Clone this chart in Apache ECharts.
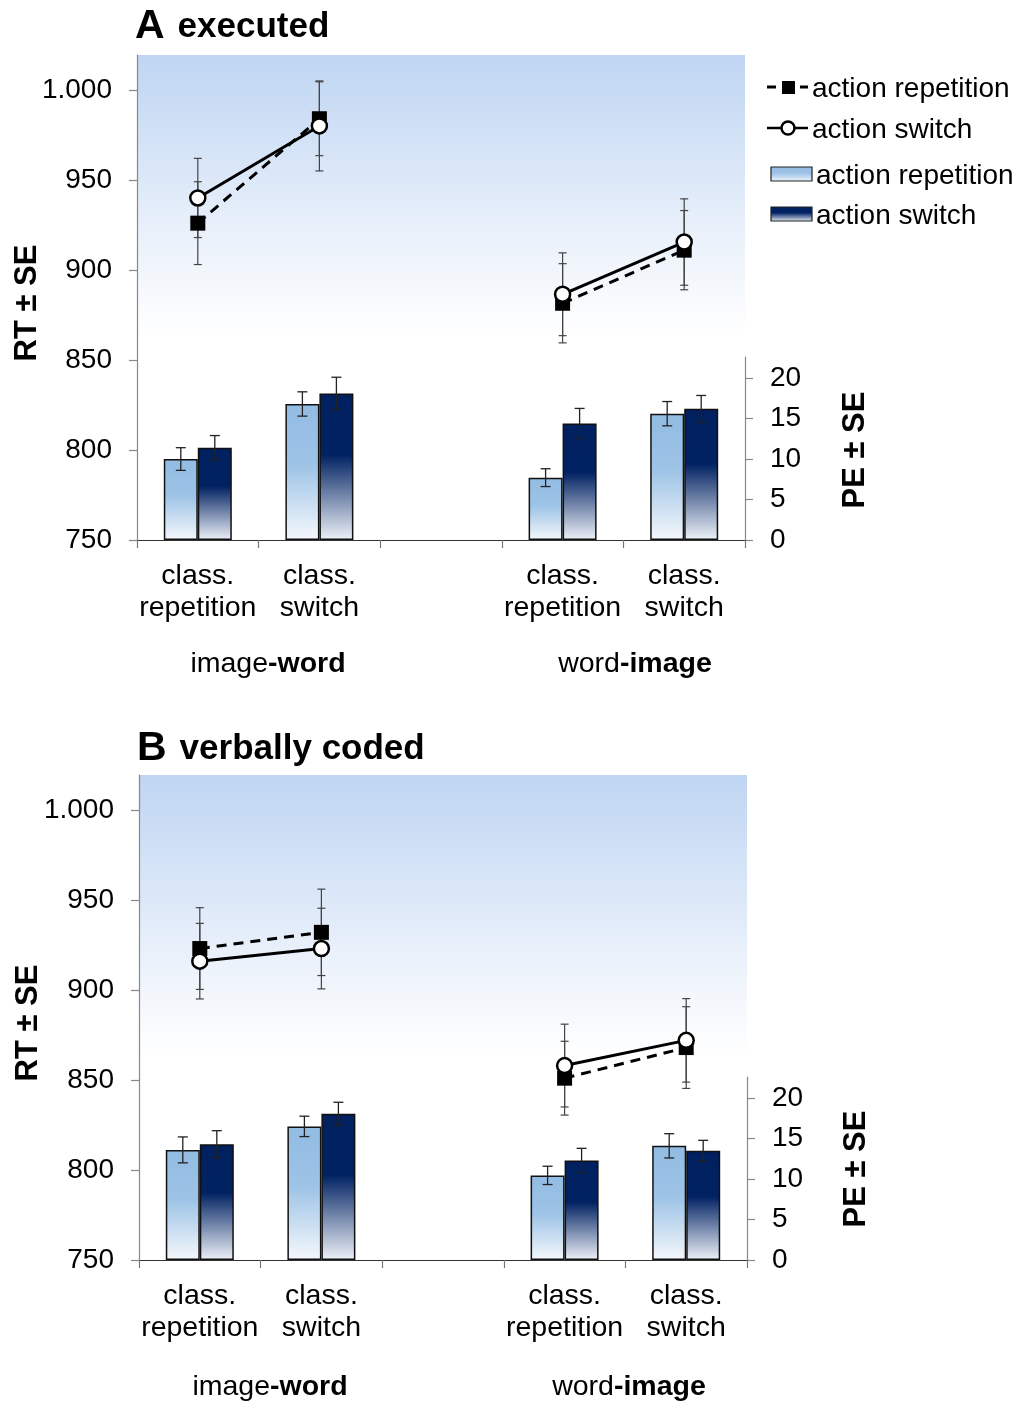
<!DOCTYPE html>
<html>
<head>
<meta charset="utf-8">
<script src="https://cdn.jsdelivr.net/npm/echarts@6/dist/echarts.min.js"></script>
<style>
  html, body { margin: 0; padding: 0; background: #fff; }
  #chart { width: 1021px; height: 1401px; }
</style>
</head>
<body>
<div id="chart"></div>
<script>
// ---------- data ----------
const categories = ['class.\nrepetition', 'class.\nswitch', '', 'class.\nrepetition', 'class.\nswitch'];
const groupLabels = [['image', '-word'], ['word', '-image']];
const panelTitles = [['A', 'executed'], ['B', 'verbally coded']];
const rtTicks = [750, 800, 850, 900, 950, 1000];
const rtTickLabels = ['750', '800', '850', '900', '950', '1.000'];
const peTicks = [0, 5, 10, 15, 20];
const seriesNames = ['action repetition', 'action switch'];
const axisNames = ['RT ± SE', 'PE ± SE'];

// Panel A (executed)
const aRtRep    = [926, 984, null, 881.5, 911];
const aRtRepSE  = [23, 20.5, null, 22, 22];
const aRtSw     = [940, 980, null, 886.5, 915.5];
const aRtSwSE   = [22, 25, null, 23, 24];
const aPeRep    = [10.0, 16.8, null, 7.7, 15.6];
const aPeRepSE  = [1.4, 1.5, null, 1.1, 1.5];
const aPeSw     = [11.4, 18.1, null, 14.4, 16.2];
const aPeSwSE   = [1.5, 2.0, null, 1.85, 1.65];

// Panel B (verbally coded)
const bRtRep    = [923, 932, null, 851, 868];
const bRtRepSE  = [22.7, 24, null, 20.5, 22.7];
const bRtSw     = [916, 923, null, 858, 872];
const bRtSwSE   = [21, 22.4, null, 23, 23.2];
const bPeRep    = [13.6, 16.5, null, 10.45, 14.1];
const bPeRepSE  = [1.6, 1.26, null, 1.13, 1.5];
const bPeSw     = [14.3, 18.05, null, 12.3, 13.5];
const bPeSwSE   = [1.67, 1.43, null, 1.49, 1.28];

// ---------- styling / layout ----------
const F = "'Liberation Sans', Arial, sans-serif";
const FS = 28;
const BAR_W = 34;
const panels = [
  { left: 137, rtTop: 55, peTop: 357, bottom: 540, width: 608 },
  { left: 139, rtTop: 775, peTop: 1077, bottom: 1260, width: 608 }
];
const RT_MIN = 750, RT_MAX = 1019.4, PE_MAX = 22.6;

const lg = (stops) => ({ type: 'linear', x: 0, y: 0, x2: 0, y2: 1, colorStops: stops });
const bgGrad = () => lg([
  { offset: 0, color: '#bfd5f2' }, { offset: 0.2, color: '#d6e4f7' },
  { offset: 0.4, color: '#edf3fb' }, { offset: 0.58, color: '#ffffff' }, { offset: 1, color: '#ffffff' }
]);
const lightGrad = () => lg([{ offset: 0, color: '#93bce3' }, { offset: 0.45, color: '#9dc3e6' }, { offset: 1, color: '#f5f8fc' }]);
const darkGrad = () => lg([{ offset: 0, color: '#00205f' }, { offset: 0.42, color: '#012262' }, { offset: 1, color: '#eef2f9' }]);

const toLine = arr => arr.map(v => (v == null ? '-' : v));
const toErr = (vals, ses) => vals.map((v, i) => (v == null ? null : [i, v, ses[i]])).filter(d => d);

function errRender(offset, capW, color, lw) {
  return function (params, api) {
    const x = api.value(0), y = api.value(1), e = api.value(2);
    const p1 = api.coord([x, y + e]);
    const p2 = api.coord([x, y - e]);
    const cx = p1[0] + offset;
    const st = { stroke: color, lineWidth: lw };
    return {
      type: 'group',
      children: [
        { type: 'line', shape: { x1: cx, y1: p1[1], x2: cx, y2: p2[1] }, style: st },
        { type: 'line', shape: { x1: cx - capW / 2, y1: p1[1], x2: cx + capW / 2, y2: p1[1] }, style: st },
        { type: 'line', shape: { x1: cx - capW / 2, y1: p2[1], x2: cx + capW / 2, y2: p2[1] }, style: st }
      ]
    };
  };
}

const grids = [], xAxes = [], yAxes = [], series = [], graphics = [];
const panelData = [
  { rtRep: aRtRep, rtRepSE: aRtRepSE, rtSw: aRtSw, rtSwSE: aRtSwSE, peRep: aPeRep, peRepSE: aPeRepSE, peSw: aPeSw, peSwSE: aPeSwSE },
  { rtRep: bRtRep, rtRepSE: bRtRepSE, rtSw: bRtSw, rtSwSE: bRtSwSE, peRep: bPeRep, peRepSE: bPeRepSE, peSw: bPeSw, peSwSE: bPeSwSE }
];

panels.forEach((p, k) => {
  const d = panelData[k];
  const gRt = grids.length, gPe = gRt + 1;
  grids.push({ left: p.left, top: p.rtTop, width: p.width, height: p.bottom - p.rtTop, show: true, backgroundColor: bgGrad(), borderWidth: 0 });
  grids.push({ left: p.left, top: p.peTop, width: p.width, height: p.bottom - p.peTop });

  xAxes.push({
    type: 'category', gridIndex: gRt, data: categories, position: 'bottom',
    axisLine: { lineStyle: { color: '#333', width: 1.2 } },
    axisTick: { show: true, length: 8, lineStyle: { color: '#777', width: 1.2 } },
    axisLabel: { interval: 0, margin: 20, fontSize: 28.5, lineHeight: 32, color: '#000', fontFamily: F }
  });
  xAxes.push({ type: 'category', gridIndex: gPe, data: categories, show: false });

  yAxes.push({
    type: 'value', gridIndex: gRt, min: RT_MIN, max: RT_MAX, interval: 50, position: 'left',
    splitLine: { show: false },
    axisLine: { show: true, lineStyle: { color: '#888', width: 1.2 } },
    axisTick: { show: true, length: 8, customValues: rtTicks, lineStyle: { color: '#888', width: 1.2 } },
    axisLabel: { customValues: rtTicks, margin: 25, fontSize: FS, color: '#000', fontFamily: F, padding: [4, 0, 0, 0],
      formatter: v => { const i = rtTicks.indexOf(v); return i >= 0 ? rtTickLabels[i] : ''; } }
  });
  yAxes.push({
    type: 'value', gridIndex: gPe, min: 0, max: PE_MAX, interval: 5, position: 'right',
    splitLine: { show: false },
    axisLine: { show: true, lineStyle: { color: '#888', width: 1.2 } },
    axisTick: { show: true, length: 8, customValues: peTicks, lineStyle: { color: '#888', width: 1.2 } },
    axisLabel: { customValues: peTicks, margin: 25, fontSize: FS, color: '#000', fontFamily: F, padding: [4, 0, 0, 0],
      formatter: v => (peTicks.indexOf(v) >= 0 ? String(v) : '') }
  });

  // Bars (PE)
  series.push({
    name: seriesNames[0] + ' PE', type: 'bar', xAxisIndex: gPe, yAxisIndex: gPe,
    data: toLine(d.peRep), barWidth: BAR_W, barGap: '0%', z: 2,
    itemStyle: { color: lightGrad(), borderColor: '#111', borderWidth: 1.5 }
  });
  series.push({
    name: seriesNames[1] + ' PE', type: 'bar', xAxisIndex: gPe, yAxisIndex: gPe,
    data: toLine(d.peSw), barWidth: BAR_W, barGap: '0%', z: 2,
    itemStyle: { color: darkGrad(), borderColor: '#111', borderWidth: 1.5 }
  });
  series.push({
    type: 'custom', xAxisIndex: gPe, yAxisIndex: gPe, z: 3, silent: true,
    data: toErr(d.peRep, d.peRepSE), renderItem: errRender(-BAR_W / 2, 10, '#222', 1.3)
  });
  series.push({
    type: 'custom', xAxisIndex: gPe, yAxisIndex: gPe, z: 3, silent: true,
    data: toErr(d.peSw, d.peSwSE), renderItem: errRender(BAR_W / 2, 10, '#222', 1.3)
  });

  // Error bars (RT)
  series.push({
    type: 'custom', xAxisIndex: gRt, yAxisIndex: gRt, z: 3, silent: true,
    data: toErr(d.rtRep, d.rtRepSE), renderItem: errRender(0, 8, '#444', 1.2)
  });
  series.push({
    type: 'custom', xAxisIndex: gRt, yAxisIndex: gRt, z: 3, silent: true,
    data: toErr(d.rtSw, d.rtSwSE), renderItem: errRender(0, 8, '#444', 1.2)
  });
  // Lines (RT)
  series.push({
    name: seriesNames[0], type: 'line', xAxisIndex: gRt, yAxisIndex: gRt, z: 5,
    data: toLine(d.rtRep), connectNulls: false,
    symbol: 'rect', symbolSize: 15,
    itemStyle: { color: '#000' },
    lineStyle: { color: '#000', width: 3, type: [10, 7] }
  });
  series.push({
    name: seriesNames[1], type: 'line', xAxisIndex: gRt, yAxisIndex: gRt, z: 6,
    data: toLine(d.rtSw), connectNulls: false,
    symbol: 'circle', symbolSize: 15,
    itemStyle: { color: '#fff', borderColor: '#000', borderWidth: 2.5 },
    lineStyle: { color: '#000', width: 3 }
  });
});

// ---------- text / decorations ----------
const titlePos = [{ x: 135, y: 27 }, { x: 137, y: 749 }];
panelTitles.forEach((t, k) => {
  graphics.push({
    type: 'text', x: titlePos[k].x, y: titlePos[k].y,
    style: {
      text: '{a|' + t[0] + '}{b|' + t[1] + '}', verticalAlign: 'middle', align: 'left',
      rich: {
        a: { fontSize: 41, fontWeight: 'bold', fontFamily: F, fill: '#000', padding: [0, 13, 0, 0] },
        b: { fontSize: 35, fontWeight: 'bold', fontFamily: F, fill: '#000' }
      }
    }
  });
});

const axisNamePos = [
  [{ x: 27, y: 303 }, { x: 855, y: 450 }],
  [{ x: 28, y: 1023 }, { x: 856, y: 1169 }]
];
axisNamePos.forEach(pair => {
  pair.forEach((pos, j) => {
    graphics.push({
      type: 'text', x: pos.x, y: pos.y, rotation: Math.PI / 2,
      style: { text: axisNames[j], align: 'center', verticalAlign: 'middle', fontSize: 31, fontWeight: 'bold', fontFamily: F, fill: '#000' }
    });
  });
});

const groupPos = [
  [{ x: 268, y: 664 }, { x: 635, y: 664 }],
  [{ x: 270, y: 1387 }, { x: 629, y: 1387 }]
];
groupPos.forEach(pair => {
  pair.forEach((pos, j) => {
    graphics.push({
      type: 'text', x: pos.x, y: pos.y,
      style: {
        text: '{r|' + groupLabels[j][0] + '}{b|' + groupLabels[j][1] + '}', align: 'center', verticalAlign: 'middle',
        rich: {
          r: { fontSize: 28.5, fontFamily: F, fill: '#000' },
          b: { fontSize: 28.5, fontWeight: 'bold', fontFamily: F, fill: '#000' }
        }
      }
    });
  });
});

// Legend (panel A, top right)
const legText = (txt, x, y) => ({ type: 'text', x: x, y: y, style: { text: txt, verticalAlign: 'middle', fontSize: FS, fontFamily: F, fill: '#000' } });
graphics.push(
  { type: 'line', shape: { x1: 767, y1: 87, x2: 776, y2: 87 }, style: { stroke: '#000', lineWidth: 3 } },
  { type: 'line', shape: { x1: 800, y1: 87, x2: 808, y2: 87 }, style: { stroke: '#000', lineWidth: 3 } },
  { type: 'rect', shape: { x: 782, y: 81, width: 13, height: 13 }, style: { fill: '#000' } },
  legText(seriesNames[0], 812, 89),
  { type: 'line', shape: { x1: 767, y1: 128, x2: 808, y2: 128 }, style: { stroke: '#000', lineWidth: 2.5 } },
  { type: 'circle', shape: { cx: 788, cy: 128, r: 6.5 }, style: { fill: '#fff', stroke: '#000', lineWidth: 2.5 } },
  legText(seriesNames[1], 812, 130),
  { type: 'rect', shape: { x: 771, y: 167, width: 41, height: 14 }, style: { fill: lightGrad(), stroke: '#222', lineWidth: 1.2 } },
  legText(seriesNames[0], 816, 176),
  { type: 'rect', shape: { x: 771, y: 207, width: 41, height: 14 }, style: { fill: darkGrad(), stroke: '#222', lineWidth: 1.2 } },
  legText(seriesNames[1], 816, 216)
);

const chart = echarts.init(document.getElementById('chart'), null, { renderer: 'canvas' });
chart.setOption({
  animation: false,
  backgroundColor: '#ffffff',
  textStyle: { fontFamily: F },
  grid: grids,
  xAxis: xAxes,
  yAxis: yAxes,
  series: series,
  graphic: graphics
});
</script>
</body>
</html>
